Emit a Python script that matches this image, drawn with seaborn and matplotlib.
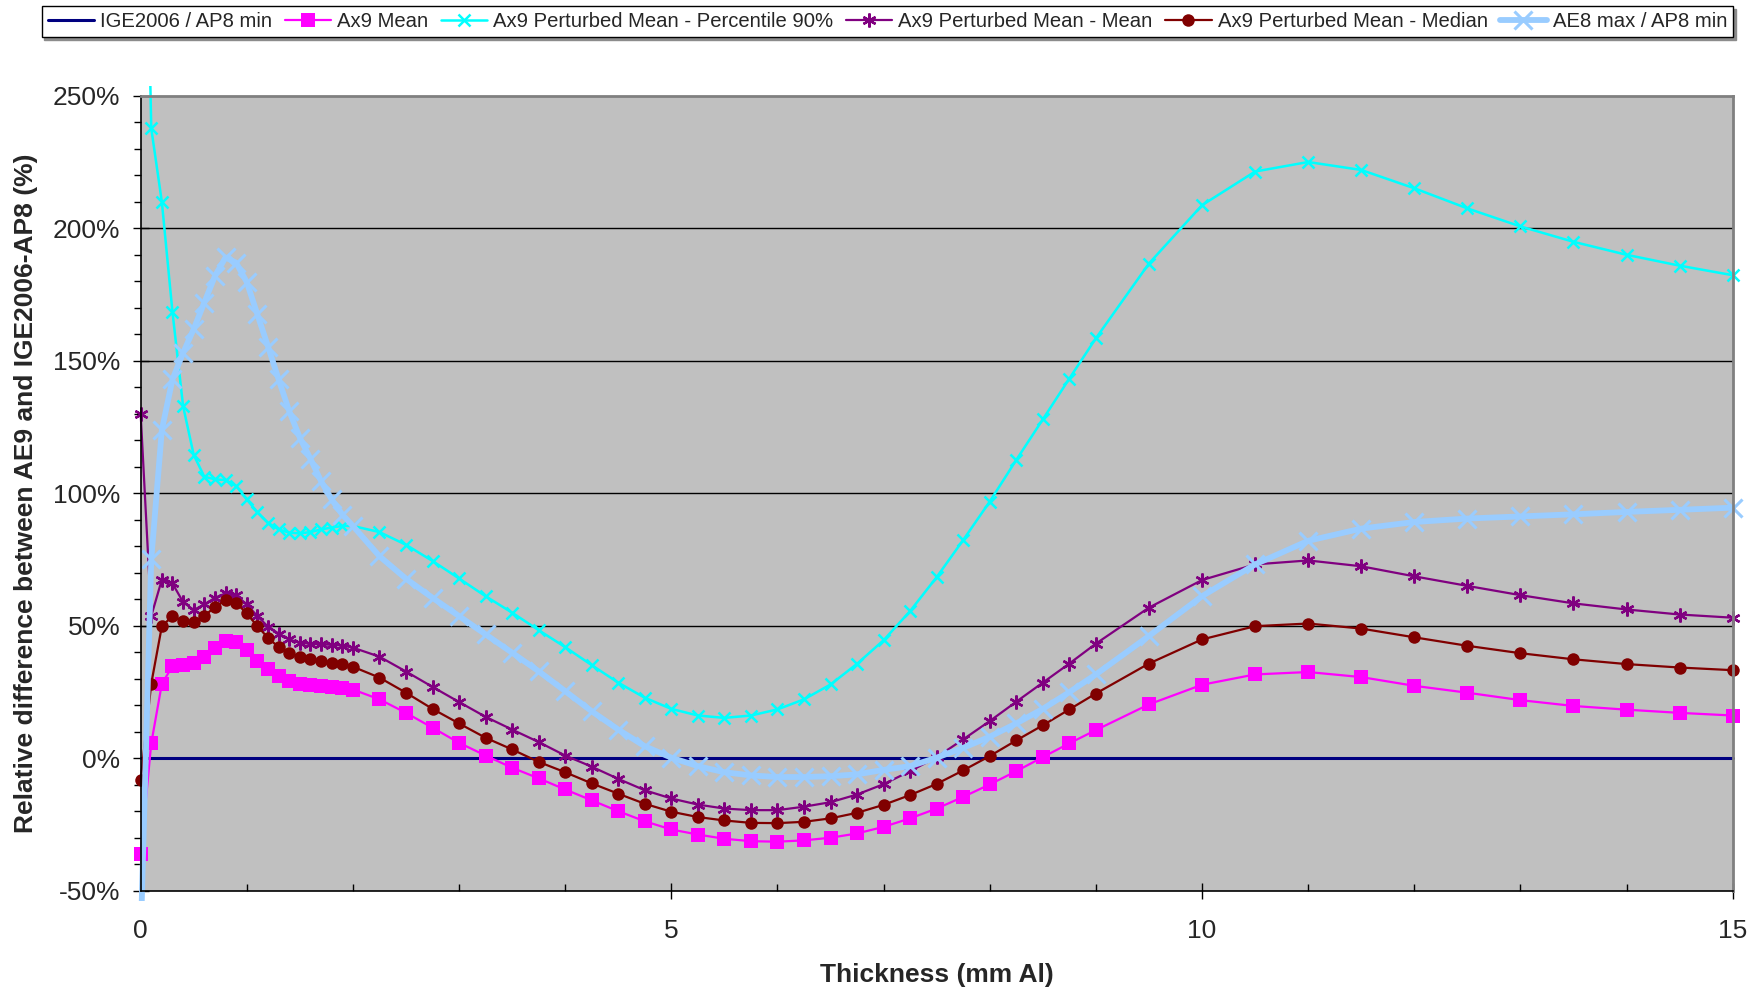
"""AE9 vs IGE2006-AP8 relative difference against shielding thickness."""

import matplotlib
matplotlib.use("Agg")
import matplotlib.pyplot as plt
from matplotlib.ticker import FixedLocator, MultipleLocator, FuncFormatter
from matplotlib.transforms import Bbox, TransformedBbox
import pandas as pd
import seaborn as sns

# ──────────────────────────────────────────────────────────
# Data (% relative difference)
# ──────────────────────────────────────────────────────────
thickness = [0, 0.1, 0.2, 0.3, 0.4, 0.5, 0.6, 0.7, 0.8, 0.9, 1.0,
             1.1, 1.2, 1.3, 1.4, 1.5, 1.6, 1.7, 1.8, 1.9, 2.0,
             2.25, 2.5, 2.75, 3.0, 3.25, 3.5, 3.75, 4.0, 4.25, 4.5, 4.75,
             5.0, 5.25, 5.5, 5.75, 6.0, 6.25, 6.5, 6.75, 7.0, 7.25, 7.5,
             7.75, 8.0, 8.25, 8.5, 8.75, 9.0,
             9.5, 10, 10.5, 11, 11.5, 12, 12.5, 13, 13.5, 14, 14.5, 15]

ige2006 = [0.0] * len(thickness)

ax9_mean = [-36.2, 5.7, 28.2, 34.8, 35.2, 36.1, 38.4, 41.8, 44.3, 43.9, 40.8,
            36.9, 33.6, 31.1, 29.2, 28.2, 27.7, 27.3, 26.9, 26.4, 26.0,
            22.3, 17.2, 11.6, 5.9, 1.1, -3.5, -7.5, -11.7, -15.8, -19.9, -23.7,
            -26.8, -28.7, -30.3, -31.2, -31.4, -30.9, -29.9, -28.3, -25.8, -22.6, -18.9,
            -14.5, -9.8, -4.8, 0.5, 5.7, 10.7,
            20.4, 27.8, 31.7, 32.6, 30.7, 27.4, 24.8, 22.0, 19.8, 18.4, 17.2, 16.2]

pm_p90 = [430.0, 237.7, 209.9, 168.4, 132.9, 114.5, 106.3, 105.3, 105.0, 102.8, 97.7,
          92.9, 88.9, 86.4, 85.2, 84.9, 85.4, 86.4, 87.1, 87.7, 87.7,
          85.4, 80.6, 74.5, 67.9, 61.2, 55.0, 48.4, 42.0, 35.2, 28.6, 22.9,
          18.7, 16.2, 15.3, 16.2, 18.5, 22.3, 27.9, 35.7, 44.6, 55.6, 68.4,
          82.4, 96.9, 112.6, 127.9, 143.3, 158.5,
          186.7, 208.7, 221.4, 225.0, 222.0, 215.1, 207.5, 200.7, 194.9, 190.0, 185.9, 182.3]

pm_mean = [130.1, 53.7, 67.5, 66.0, 59.0, 56.0, 58.1, 60.6, 62.3, 61.5, 58.1,
           53.7, 49.7, 47.1, 44.9, 43.6, 43.3, 43.0, 42.9, 42.6, 41.8,
           38.4, 32.8, 27.0, 21.3, 15.7, 10.9, 6.2, 1.1, -3.1, -7.7, -12.0,
           -15.1, -17.4, -18.9, -19.5, -19.5, -18.2, -16.5, -13.6, -9.7, -4.8, 0.5,
           7.2, 14.1, 21.4, 28.6, 35.8, 43.3,
           56.9, 67.3, 73.2, 74.7, 72.5, 68.7, 65.1, 61.6, 58.5, 56.2, 54.3, 53.1]

pm_median = [-8.3, 28.2, 49.9, 53.7, 51.8, 51.6, 53.7, 57.2, 59.6, 58.7, 54.7,
             49.9, 45.5, 42.0, 39.9, 38.2, 37.4, 36.7, 36.1, 35.5, 34.6,
             30.5, 24.8, 18.7, 13.2, 7.8, 3.4, -1.3, -5.2, -9.4, -13.3, -17.1,
             -20.1, -22.1, -23.4, -24.3, -24.4, -23.9, -22.6, -20.5, -17.5, -13.8, -9.6,
             -4.5, 0.9, 6.8, 12.5, 18.5, 24.5,
             35.8, 44.9, 49.9, 50.9, 49.0, 45.7, 42.5, 39.7, 37.4, 35.6, 34.3, 33.3]

ae8_max = [-69.0, 75.1, 124.0, 143.0, 153.0, 162.0, 172.0, 182.0, 189.0, 187.0, 179.7,
           167.5, 155.4, 143.0, 131.0, 121.0, 113.0, 104.6, 97.7, 92.0, 87.7,
           76.3, 67.8, 60.6, 53.7, 46.8, 39.9, 32.9, 25.4, 17.8, 10.9, 4.6,
           0.3, -2.9, -5.2, -6.4, -7.0, -7.0, -6.7, -6.0, -4.3, -2.9, 0.3,
           4.0, 8.2, 13.2, 18.7, 25.0, 31.7,
           46.2, 61.2, 73.2, 82.1, 86.7, 89.2, 90.5, 91.3, 92.1, 93.0, 93.8, 94.6]

df = pd.DataFrame({
    "thickness": thickness,
    "ige": ige2006,
    "ax9_mean": ax9_mean,
    "pm_p90": pm_p90,
    "pm_mean": pm_mean,
    "pm_median": pm_median,
    "ae8": ae8_max,
})

# series: column, label, colour, marker, line width, marker size, edge width
SERIES = [
    ("ige", "IGE2006 / AP8 min", "#000080", None, 2.2, 0, 0),
    ("ax9_mean", "Ax9 Mean", "#FF00FF", "s", 1.6, 9.5, 0),
    ("pm_p90", "Ax9 Perturbed Mean - Percentile 90%", "#00FFFF", "x", 1.8, 9, 1.8),
    ("pm_mean", "Ax9 Perturbed Mean - Mean", "#800080", (6, 2, 0), 1.6, 10, 1.7),
    ("pm_median", "Ax9 Perturbed Mean - Median", "#800000", "o", 1.6, 9, 0),
    ("ae8", "AE8 max / AP8 min", "#99CCFF", "x", 4.2, 12.5, 2.2),
]

sns.set_theme(style="ticks", rc={"axes.facecolor": "#C0C0C0"})
plt.rcParams["font.family"] = ["Liberation Sans", "DejaVu Sans"]

fig = plt.figure(figsize=(17.58, 9.90), dpi=100)
ax = fig.add_axes([0.0800, 0.1000, 0.9056, 0.8033])

for col, label, color, marker, lw, ms, mew in SERIES:
    kw = dict(color=color, linewidth=lw, label=label)
    if marker is not None:
        kw.update(marker=marker, markersize=ms, markerfacecolor=color,
                  markeredgecolor=color, markeredgewidth=mew)
    sns.lineplot(data=df, x="thickness", y=col, ax=ax, **kw)

# let the lines and markers spill just past the plot frame, like the original
clip = TransformedBbox(Bbox([[-0.008, -0.012], [1.008, 1.012]]), ax.transAxes)
for line in ax.lines:
    line.set_clip_box(clip)

ax.set_xlim(0, 15)
ax.set_ylim(-50, 250)
ax.xaxis.set_major_locator(FixedLocator([0, 5, 10, 15]))
ax.xaxis.set_minor_locator(MultipleLocator(1))
ax.yaxis.set_major_locator(MultipleLocator(50))
ax.yaxis.set_minor_locator(MultipleLocator(10))
ax.yaxis.set_major_formatter(FuncFormatter(lambda v, _: f"{v:.0f}%"))

ax.grid(False)
for yv in [50, 100, 150, 200]:
    ax.axhline(yv, color="black", linewidth=1.0, zorder=0.5)

ax.tick_params(axis="both", which="major", labelsize=19, color="black",
               width=1, direction="inout", length=11)
ax.tick_params(axis="y", which="major", pad=9)
ax.tick_params(axis="x", which="major", pad=15)
ax.tick_params(axis="y", which="minor", direction="out", length=5, width=1, color="black")
ax.tick_params(axis="x", which="minor", direction="in", length=5, width=1, color="black")

for side in ["left", "bottom"]:
    ax.spines[side].set_color("black")
    ax.spines[side].set_linewidth(1.2)
for side in ["top", "right"]:
    ax.spines[side].set_color("#808080")
    ax.spines[side].set_linewidth(2)

ax.set_xlabel("Thickness (mm Al)", fontsize=19, fontweight="bold", labelpad=14)
ax.set_ylabel("Relative difference between AE9 and IGE2006-AP8 (%)",
              fontsize=19, fontweight="bold", labelpad=11)

ax.get_legend().remove()
handles, labels = ax.get_legend_handles_labels()
fig.legend(handles, labels, loc="upper center", bbox_to_anchor=(0.5048, 0.994),
           ncol=6, fontsize=14.6, frameon=True, fancybox=False, edgecolor="black",
           facecolor="white", framealpha=1, borderpad=0.3, handlelength=2.3,
           handletextpad=0.3, columnspacing=0.6, borderaxespad=0,
           shadow={"ox": 2, "oy": -2, "color": "0.55", "alpha": 1})

fig.savefig("out.png", dpi=100)
plt.close()
